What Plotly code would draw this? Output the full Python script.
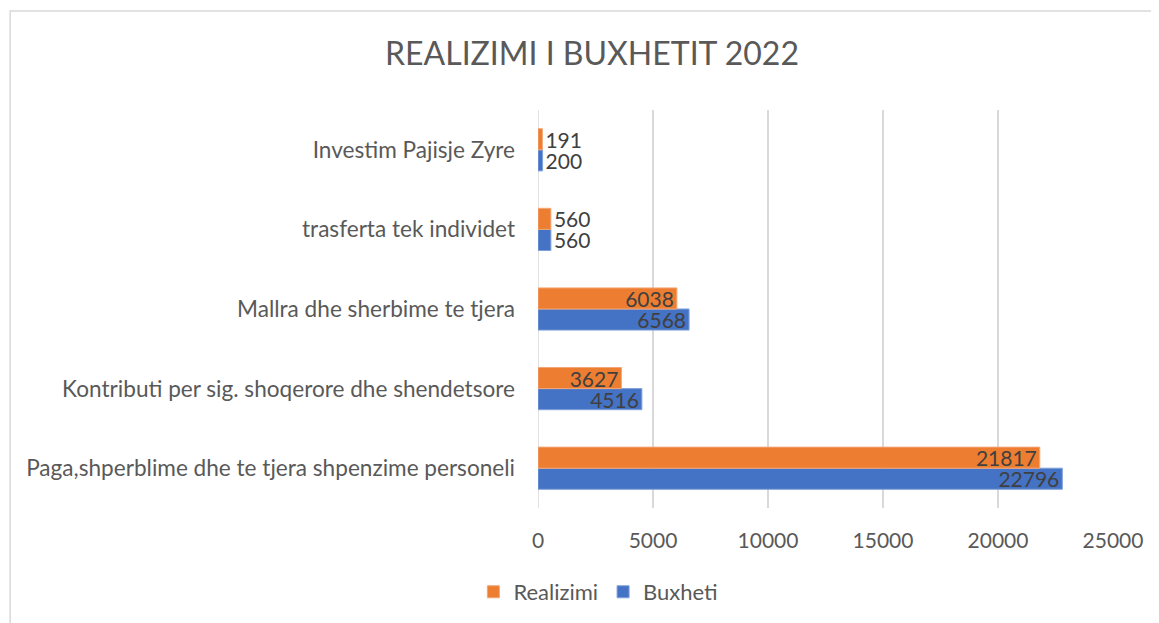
import plotly.graph_objects as go

categories = [
    "Paga,shperblime dhe te tjera shpenzime personeli",
    "Kontributi per sig. shoqerore dhe shendetsore",
    "Mallra dhe sherbime te tjera",
    "trasferta tek individet",
    "Investim Pajisje Zyre",
]
buxheti = [22796, 4516, 6568, 560, 200]
realizimi = [21817, 3627, 6038, 560, 191]
x_ticks = [0, 5000, 10000, 15000, 20000, 25000]
x_tick_labels = ["0", "5000", "10000", "15000", "20000", "25000"]

FONT = "Lato"
TXT = "#595959"
LBL = "#404040"
ORANGE = "#ED7D31"
BLUE = "#4472C4"


def positions(vals):
    return ["inside" if v > 2000 else "outside" for v in vals]


fig = go.Figure()
fig.add_trace(go.Bar(
    y=categories, x=buxheti, orientation="h", name="Buxheti",
    marker=dict(color=BLUE, line=dict(color="#7FA0DA", width=1)),
    text=[str(v) for v in buxheti], textposition=positions(buxheti),
    insidetextanchor="end", constraintext="none", cliponaxis=False,
    textfont=dict(family=FONT, size=21, color=LBL),
))
fig.add_trace(go.Bar(
    y=categories, x=realizimi, orientation="h", name="Realizimi",
    marker=dict(color=ORANGE, line=dict(color="#F3A776", width=1)),
    text=[str(v) for v in realizimi], textposition=positions(realizimi),
    insidetextanchor="end", constraintext="none", cliponaxis=False,
    textfont=dict(family=FONT, size=21, color=LBL),
))

fig.update_layout(
    width=1159, height=623,
    paper_bgcolor="white", plot_bgcolor="white",
    margin=dict(l=530, r=54, t=102, b=123),
    barmode="group", bargap=0.47, bargroupgap=0,
    title=dict(text="REALIZIMI I BUXHETIT 2022", x=(592 - 8) / 1159, xanchor="center",
               y=1 - 46 / 623, yanchor="middle", yref="container",
               font=dict(family=FONT, size=32, color=TXT)),
    xaxis=dict(range=[0, 25000], tickvals=x_ticks, ticktext=x_tick_labels,
               showgrid=True, gridcolor="#D9D9D9", gridwidth=1.5, zeroline=False,
               showline=False, ticklabelstandoff=18,
               tickfont=dict(family=FONT, size=21, color=TXT)),
    yaxis=dict(showgrid=False, zeroline=False, showline=False,
               ticklabelstandoff=22,
               tickfont=dict(family=FONT, size=22.6, color=TXT)),
    legend=dict(orientation="h", x=0.105, xanchor="center", y=-0.211,
                yanchor="middle", traceorder="reversed",
                font=dict(family=FONT, size=22, color=TXT)),
    showlegend=True,
    shapes=[
        dict(type="rect", xref="paper", yref="paper",
             x0=-0.918, x1=1.12, y0=-0.35, y1=1.2487,
             line=dict(color="#D9D9D9", width=1.5), layer="below"),
        dict(type="line", xref="x", yref="paper", x0=0, x1=0, y0=0, y1=1,
             line=dict(color="#D9D9D9", width=1.5), layer="below"),
    ],
)

fig.write_html("out.html")
